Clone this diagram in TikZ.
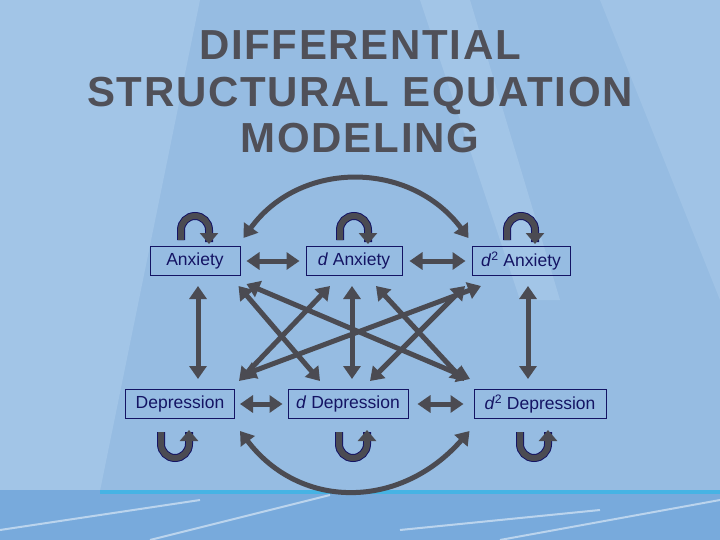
\documentclass[tikz,border=0pt]{standalone}
\usepackage{fontspec}
\setmainfont{Liberation Sans}
\usetikzlibrary{arrows.meta,calc}
\definecolor{bg}{RGB}{150,188,226}
\definecolor{bgl}{RGB}{175,206,236}
\definecolor{band}{RGB}{120,170,220}
\definecolor{navy}{RGB}{20,20,100}
\definecolor{arr}{RGB}{75,75,82}
\definecolor{ttl}{RGB}{80,80,88}
\tikzset{
 box/.style={draw=navy, line width=1pt, text=navy, font=\fontsize{17.5}{20}\selectfont, minimum height=29pt, inner sep=0pt},
 dbl/.style={draw=arr, line width=5pt, {Triangle[width=17pt,length=13pt]}-{Triangle[width=17pt,length=13pt]}},
 loop/.style={draw=arr, line width=6pt, -{Triangle[width=18pt,length=11pt]}},
 loopo/.style={draw=navy, line width=8pt},
}
\begin{document}
\begin{tikzpicture}[x=1pt,y=-1pt]
\useasboundingbox (0,0) rectangle (720,540);
\fill[bg] (0,0) rectangle (720,540);
\fill[bgl,opacity=0.5] (0,0) -- (200,0) -- (90,540) -- (0,540) -- cycle;
\fill[bgl,opacity=0.5] (420,0) -- (470,0) -- (560,300) -- (520,300) -- cycle;
\fill[bgl,opacity=0.4] (600,0) -- (720,0) -- (720,300) -- cycle;
\fill[band] (0,490) rectangle (720,540);
\fill[cyan!60!bg] (100,490) rectangle (720,494);
\draw[white,opacity=0.5,line width=2pt] (0,530) -- (200,500) (150,540) -- (330,495) (400,530) -- (600,510) (500,540) -- (720,500);
\node[text=ttl, font=\fontsize{42}{46.5}\bfseries\addfontfeatures{LetterSpace=4}, align=center] (title) at (360,92) {DIFFERENTIAL\\STRUCTURAL EQUATION\\MODELING};
\node[box, minimum width=90pt] (A) at (195,261) {Anxiety};
\node[box, minimum width=96pt] (dA) at (354,261) {\textit{d} Anxiety};
\node[box, minimum width=98pt] (ddA) at (521,261) {\textit{d}\textsuperscript{2} Anxiety};
\node[box, minimum width=109pt] (D) at (180,404) {Depression};
\node[box, minimum width=120pt] (dD) at (348,404) {\textit{d} Depression};
\node[box, minimum width=132pt] (ddD) at (540,404) {\textit{d}\textsuperscript{2} Depression};
% horizontal
\draw[dbl] ($(A.east)+(6,0)$) -- ($(dA.west)+(-6,0)$);
\draw[dbl] ($(dA.east)+(7,0)$) -- ($(ddA.west)+(-6,0)$);
\draw[dbl] ($(D.east)+(5,0)$) -- ($(dD.west)+(-5,0)$);
\draw[dbl] ($(dD.east)+(9,0)$) -- ($(ddD.west)+(-10,0)$);
% vertical
\draw[dbl] ($(A.south)+(3,10)$) -- ($(D.north)+(18,-10)$);
\draw[dbl] ($(dA.south)+(-2,10)$) -- ($(dD.north)+(4,-10)$);
\draw[dbl] ($(ddA.south)+(7,10)$) -- ($(ddD.north)+(-12,-10)$);
% crosses
\draw[dbl] ($(A.south east)+(-2,10)$) -- ($(dD.north)+(-28,-8)$);
\draw[dbl] ($(A.south east)+(6,8)$) -- ($(ddD.north)+(-70,-10)$);
\draw[dbl] ($(dA.south)+(-24,10)$) -- ($(D.north east)+(4,-8)$);
\draw[dbl] ($(dA.south)+(22,10)$) -- ($(ddD.north)+(-76,-8)$);
\draw[dbl] ($(ddA.south)+(-56,10)$) -- ($(dD.north)+(22,-8)$);
\draw[dbl] ($(ddA.south)+(-40,10)$) -- ($(D.north east)+(8,-14)$);
% arcs
\draw[dbl] ($(A.north east)+(3,-8)$) .. controls (300,160) and (410,160) .. ($(ddA.north west)+(-3,-8)$);
\draw[dbl] ($(D.south east)+(5,12)$) .. controls (300,510) and (400,510) .. ($(ddD.south west)+(-4,12)$);
% self loops top
\foreach \n in {A,dA,ddA}{
 \draw[loopo] ($(\n.north)+(-14,-6)$) -- ++(0,-10) arc[start angle=180,end angle=0,radius=14pt] -- ++(0,12);
 \draw[loop] ($(\n.north)+(-14,-6)$) -- ++(0,-10) arc[start angle=180,end angle=0,radius=14pt] -- ++(0,14);
}
% self loops bottom
\foreach \n/\dx in {D/-5,dD/5,ddD/-6}{
 \draw[loopo] ($(\n.south)+(\dx-14,13)$) -- ++(0,12) arc[start angle=180,end angle=360,radius=14pt] -- ++(0,-12);
 \draw[loop] ($(\n.south)+(\dx-14,13)$) -- ++(0,12) arc[start angle=180,end angle=360,radius=14pt] -- ++(0,-14);
}
\end{tikzpicture}
\end{document}
